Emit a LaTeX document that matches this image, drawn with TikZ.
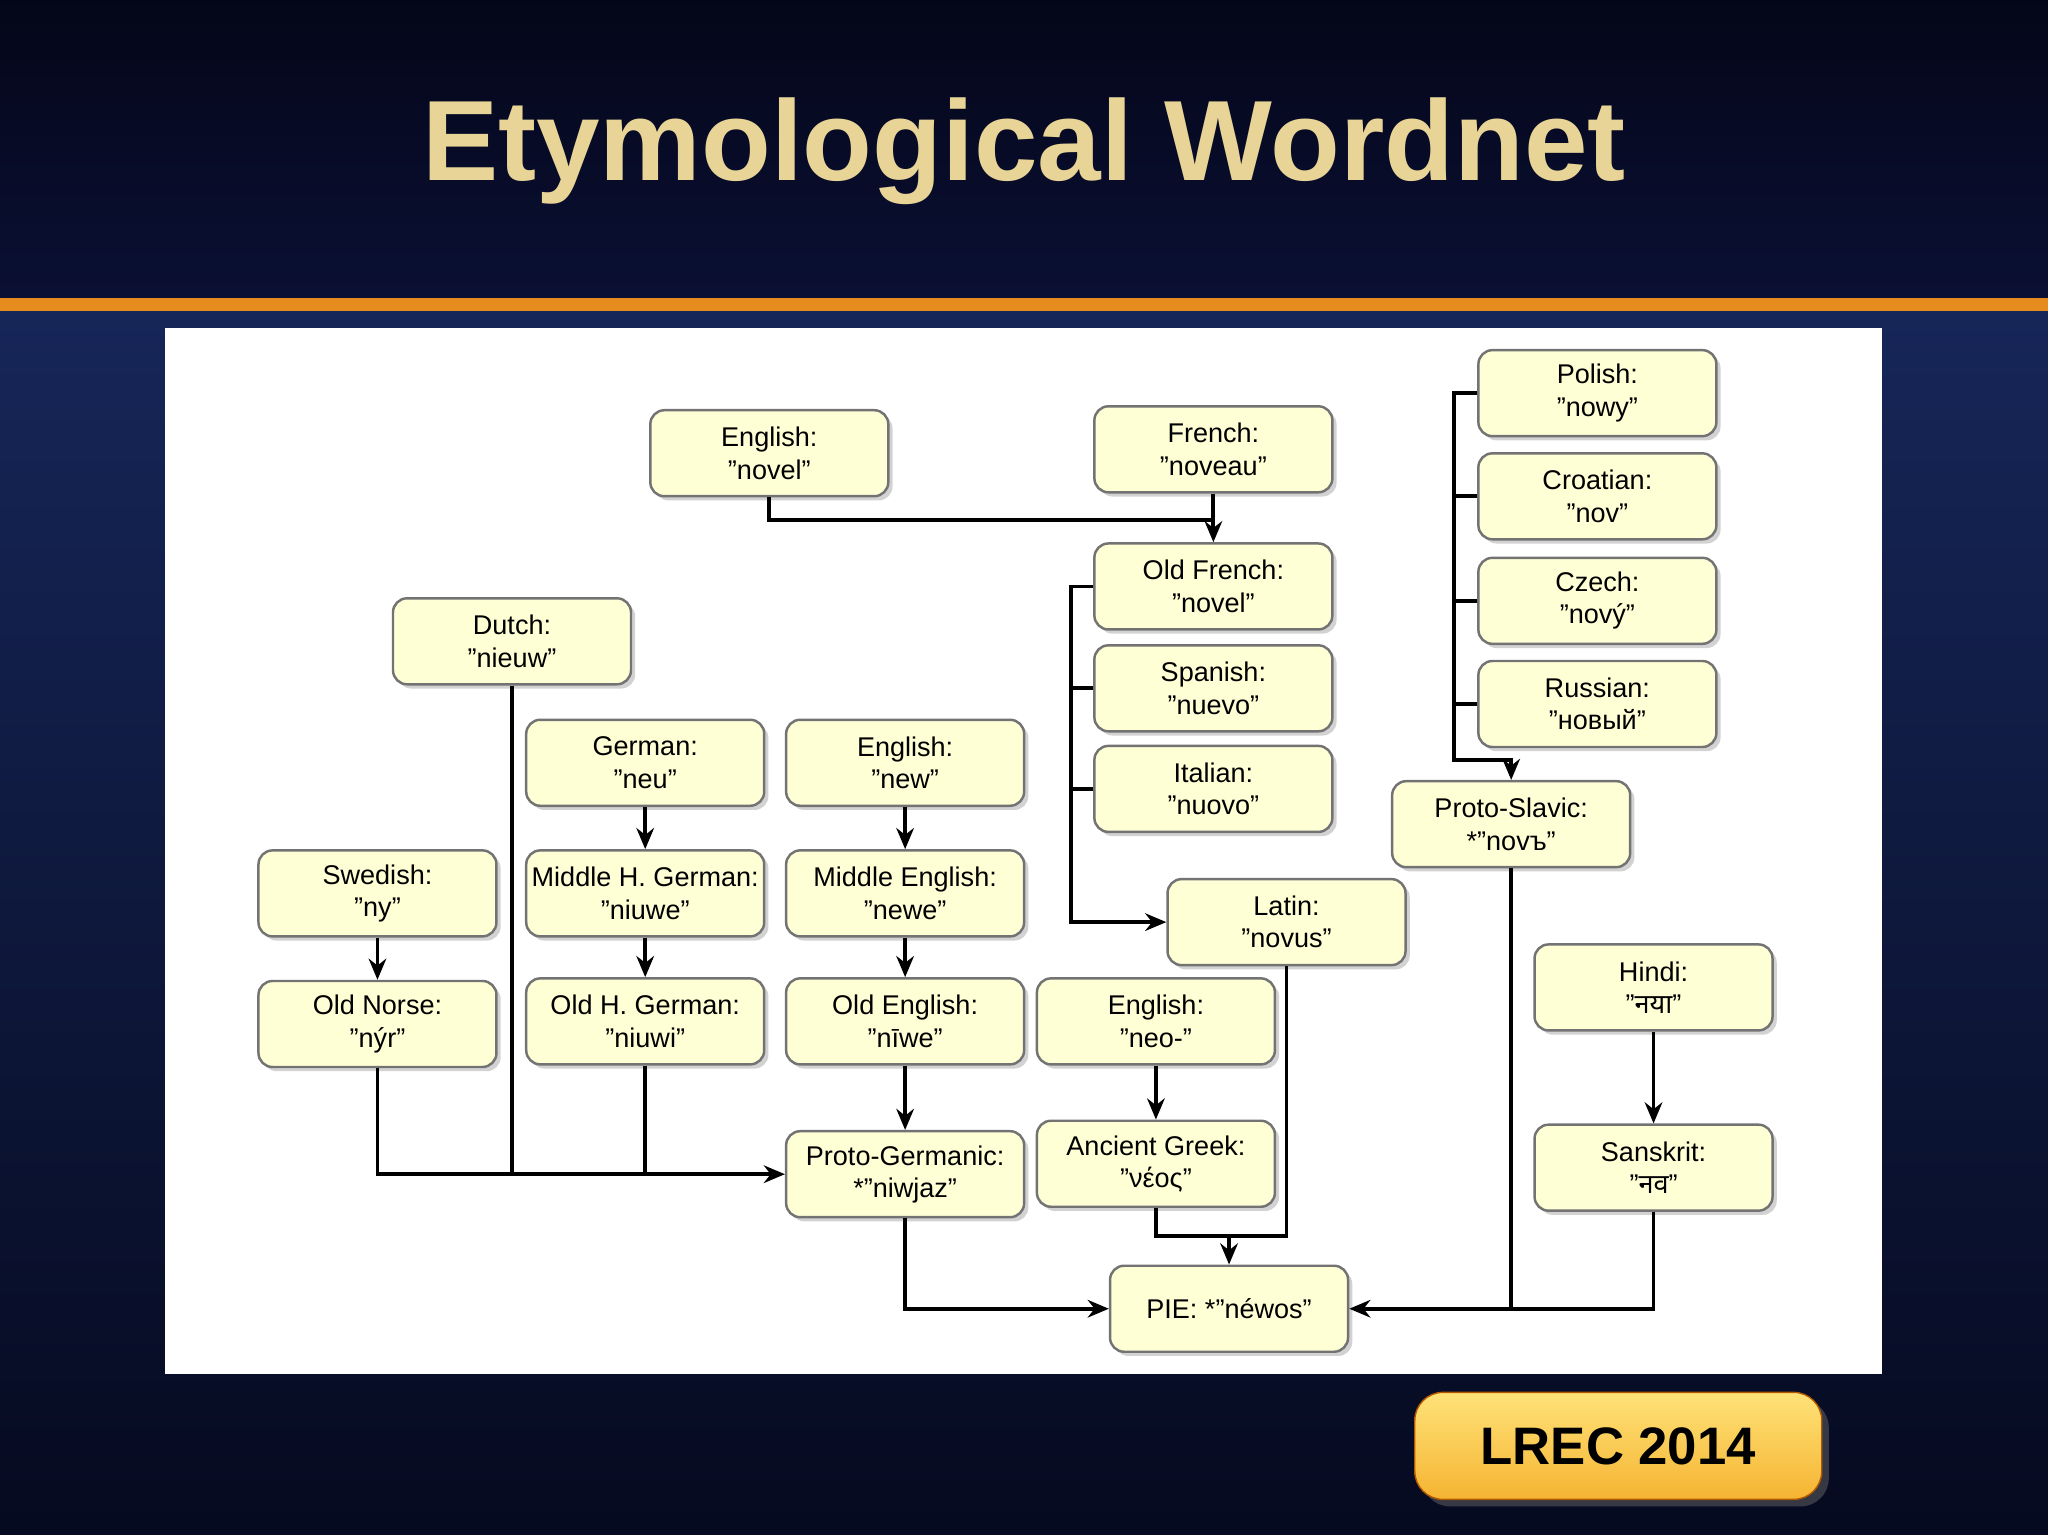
\documentclass[tikz,border=0pt]{standalone}
\usepackage{fontspec}
\setmainfont{Liberation Sans}
\newfontfamily\devafont[Script=Devanagari]{Noto Sans}
\usetikzlibrary{shadows,arrows.meta}
\definecolor{boxfill}{RGB}{255,255,214}
\definecolor{titlec}{RGB}{232,212,150}
\definecolor{orangec}{RGB}{230,140,30}
\tikzset{
 wbox/.style={draw=black!55,line width=0.7pt,fill=boxfill,rounded corners=4pt,
   minimum width=2.38cm,minimum height=0.86cm,align=center,inner sep=1pt,
   font=\fontsize{7.7}{9.2}\selectfont,
   drop shadow={shadow xshift=1.2pt,shadow yshift=-1.2pt,fill=black!35}},
 conn/.style={draw=black,line width=1.1pt},
 arr/.style={conn,-{Stealth[length=6pt,width=5pt]}}
}
\begin{document}
\begin{tikzpicture}[x=0.013061cm,y=-0.013061cm]
\useasboundingbox (0,0) rectangle (1568,1175);
\shade[top color={rgb,255:red,22;green,38;blue,88},bottom color={rgb,255:red,6;green,10;blue,32}] (0,236) rectangle (1568,1175);
\shade[top color={rgb,255:red,4;green,6;blue,24},bottom color={rgb,255:red,10;green,16;blue,52}] (0,0) rectangle (1568,228);
\fill[orangec] (0,228) rectangle (1568,238);
\node[font=\bfseries\fontsize{32.5}{36}\selectfont,text=titlec] (title) at (784,116) {Etymological Wordnet};
\fill[white] (126,251) rectangle (1441,1052);
\node[draw=orange!70!black,rounded corners=8pt,top color={rgb,255:red,255;green,226;blue,120},bottom color={rgb,255:red,245;green,180;blue,50},
 minimum width=4.07cm,minimum height=1.07cm,font=\bfseries\fontsize{15}{17}\selectfont,
 drop shadow={shadow xshift=2pt,shadow yshift=-2pt,fill=black!60}] (lrec) at (1239,1107) {LREC 2014};

\node[wbox] (ennovel) at (589,347) {English:\\"novel"};
\node[wbox] (fr) at (929,344) {French:\\"noveau"};
\node[wbox] (ofr) at (929,449) {Old French:\\"novel"};
\node[wbox] (sp) at (929,527) {Spanish:\\"nuevo"};
\node[wbox] (it) at (929,604) {Italian:\\"nuovo"};
\node[wbox] (du) at (392,491) {Dutch:\\"nieuw"};
\node[wbox] (ge) at (494,584) {German:\\"neu"};
\node[wbox] (ennew) at (693,584) {English:\\"new"};
\node[wbox] (sw) at (289,684) {Swedish:\\"ny"};
\node[wbox] (mhg) at (494,684) {Middle H. German:\\"niuwe"};
\node[wbox] (me) at (693,684) {Middle English:\\"newe"};
\node[wbox] (la) at (985,706) {Latin:\\"novus"};
\node[wbox] (on) at (289,784) {Old Norse:\\"nýr"};
\node[wbox] (ohg) at (494,782) {Old H. German:\\"niuwi"};
\node[wbox] (oe) at (693,782) {Old English:\\"nīwe"};
\node[wbox] (enneo) at (885,782) {English:\\"neo-"};
\node[wbox] (pg) at (693,899) {Proto-Germanic:\\*"niwjaz"};
\node[wbox] (ag) at (885,891) {Ancient Greek:\\"νέος"};
\node[wbox] (pie) at (941,1002) {PIE: *"néwos"};
\node[wbox] (pl) at (1223,301) {Polish:\\"nowy"};
\node[wbox] (hr) at (1223,380) {Croatian:\\"nov"};
\node[wbox] (cz) at (1223,460) {Czech:\\"nový"};
\node[wbox] (ru) at (1223,539) {Russian:\\"новый"};
\node[wbox] (ps) at (1157,631) {Proto-Slavic:\\*"novъ"};
\node[wbox] (hi) at (1266,756) {Hindi:\\"{\devafont नया}"};
\node[wbox] (sa) at (1266,894) {Sanskrit:\\"{\devafont नव}"};

\coordinate (j1) at (929,398);
\draw[conn] (ennovel.south) |- (j1);
\draw[arr] (fr.south) -- (ofr.north);
\coordinate (lb) at (820,449);
\draw[arr] (ofr.west) -- (820,449) |- (la.west);
\draw[conn] (sp.west) -- (sp.west -| lb);
\draw[conn] (it.west) -- (it.west -| lb);
\draw[arr] (pl.west) -- (1113,301) |- (1157,582) -- (ps.north);
\draw[conn] (hr.west) -- (1113,380);
\draw[conn] (cz.west) -- (1113,460);
\draw[conn] (ru.west) -- (1113,539);
\draw[arr] (sw) -- (on);
\draw[arr] (on.south) |- (pg.west);
\draw[conn] (du.south) -- (du.south |- pg.west);
\draw[conn] (ohg.south) -- (ohg.south |- pg.west);
\draw[arr] (ge) -- (mhg);
\draw[arr] (mhg) -- (ohg);
\draw[arr] (ennew) -- (me);
\draw[arr] (me) -- (oe);
\draw[arr] (oe) -- (pg);
\draw[arr] (enneo) -- (ag);
\draw[arr] (ag.south) |- (941,946) -- (pie.north);
\draw[conn] (la.south) |- (941,946);
\draw[arr] (pg.south) |- (pie.west);
\draw[arr] (sa.south) |- (pie.east);
\draw[conn] (ps.south) -- (ps.south |- pie.east);
\draw[arr] (hi) -- (sa);
\end{tikzpicture}
\end{document}
